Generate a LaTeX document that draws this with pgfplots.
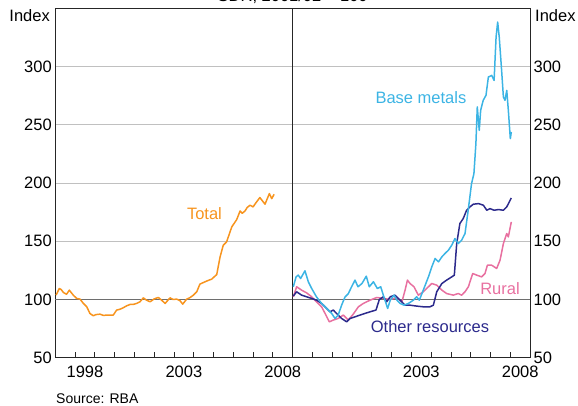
\documentclass[border=0pt]{standalone}
\usepackage{fontspec}
\setmainfont{Liberation Sans}
\usepackage{pgfplots}
\pgfplotsset{compat=1.18}

\definecolor{totc}{RGB}{247,148,30}
\definecolor{basec}{RGB}{60,180,228}
\definecolor{othc}{RGB}{44,42,140}
\definecolor{rurc}{RGB}{232,112,160}
\definecolor{gridc}{RGB}{192,192,192}
\definecolor{zeroc}{RGB}{110,110,110}
\newcommand\lbl{\fontsize{16.5}{19}\selectfont}

\pgfplotsset{rbapanel/.style={
  scale only axis, width=237.4pt, height=349.4pt,
  xmin=1997, xmax=2009, ymin=50, ymax=350,
  xtick={1997,...,2009}, xticklabels={},
  xtick pos=bottom, tick align=inside, major tick length=6pt,
  ytick={50,150,200,250,300},
  ymajorgrids, major grid style={gridc, line width=0.9pt},
  extra y ticks={100},
  extra y tick style={major tick length=0pt, major grid style={zeroc, line width=1.2pt}},
  ytick style={draw=none},
  axis line style={black!85, line width=0.8pt},
  tick style={black!85, line width=0.8pt},
  /pgf/number format/assume math mode=true,
  ticklabel style={font=\lbl},
  xticklabel style={yshift=-5pt},
  extra x tick style={major tick length=0pt},
  every axis plot/.append style={line width=1.5pt, mark=none, line join=round},
}}

\begin{document}
\begin{tikzpicture}
\path[use as bounding box] (0,0) rectangle (578pt,405pt);

% left panel: total
\begin{axis}[rbapanel, at={(55.3pt,47.3pt)}, anchor=south west,
  yticklabel pos=left,
  extra x ticks={1998.5,2003.5,2008.5},
  extra x tick labels={1998,2003,2008}]
\addplot[totc] coordinates {
(1997.04,103.7) (1997.2,109.4) (1997.3,108.5) (1997.41,106) (1997.5,105.1) (1997.57,104.5)
(1997.71,108) (1997.8,106) (1997.91,103.7) (1998.08,100.9) (1998.25,100.3)
(1998.42,96.6) (1998.59,93.7) (1998.75,88) (1998.92,86) (1999.05,87) (1999.26,87.4)
(1999.43,86.3) (1999.6,86.6) (1999.93,86.6) (2000.1,90.9) (2000.25,91.5) (2000.44,92.9)
(2000.6,94.5) (2000.78,95.7) (2000.95,95.8) (2001.11,96.6) (2001.28,98) (2001.45,101.4)
(2001.6,99.5) (2001.79,98) (2002.0,100.5) (2002.21,101.7) (2002.4,99) (2002.55,96.6)
(2002.8,101.4) (2002.95,100) (2003.14,100.3) (2003.3,99) (2003.44,96)
(2003.64,100.3) (2003.8,101.5) (2003.98,103.7) (2004.15,106.6) (2004.31,113.2)
(2004.57,115.2) (2004.75,116.5) (2004.9,117.4) (2005.16,121.4) (2005.33,136.6)
(2005.49,146.6) (2005.66,149.5) (2005.92,162.3) (2006.17,168.6) (2006.34,176)
(2006.45,174) (2006.59,176) (2006.7,179) (2006.84,180.9) (2007.0,179.5) (2007.09,181.8)
(2007.34,187.5) (2007.5,184) (2007.6,181.8) (2007.82,190.9) (2007.94,186.6) (2008.06,190.3)
};
\node[totc, font=\lbl] at (axis cs:2004.54,174) {Total};
\end{axis}

% right panel: components
\begin{axis}[rbapanel, at={(292.7pt,47.3pt)}, anchor=south west,
  yticklabel pos=right,
  extra x ticks={2003.5,2008.5},
  extra x tick labels={2003,2008}]
\addplot[rurc] coordinates {
(1997.03,102.3) (1997.2,110.9) (1997.45,108) (1997.7,105.7) (1997.96,102.3)
(1998.2,98) (1998.46,93.7) (1998.68,86.6) (1998.85,80.8) (1999.05,82.3)
(1999.3,83.7) (1999.56,86.6) (1999.81,82.3) (2000.06,87.4) (2000.32,93.7)
(2000.57,96.6) (2000.91,99.4) (2001.25,101.7) (2001.58,100.9) (2001.93,100)
(2002.27,101.7) (2002.52,98) (2002.68,108) (2002.8,116.6) (2002.93,113.7)
(2003.13,110.9) (2003.35,103.7) (2003.6,106.6) (2003.86,110.9) (2004.03,113.7)
(2004.28,112.3) (2004.54,108) (2004.78,105.1) (2005.12,103.7) (2005.37,105.1)
(2005.54,103.7) (2005.71,106.6) (2005.88,110.9) (2006.1,122.3) (2006.3,120.9)
(2006.55,119.4) (2006.72,122.3) (2006.84,129.4) (2007.06,129.4) (2007.31,126.6)
(2007.48,133.7) (2007.65,148) (2007.82,156.6) (2007.9,153.7) (2008.05,166.6)
};
\addplot[othc] coordinates {
(1997.03,102.9) (1997.2,106.6) (1997.45,103.7) (1997.7,102.3) (1997.96,100.9)
(1998.2,99.4) (1998.46,96.6) (1998.72,92.3) (1998.89,89.4) (1999.05,90.9)
(1999.22,88) (1999.47,83.7) (1999.73,80.8) (1999.9,83.7) (2000.15,85.1)
(2000.4,86.6) (2000.65,88) (2000.91,89.4) (2001.21,90.9) (2001.38,100)
(2001.58,102.3) (2001.75,98) (2001.93,102.3) (2002.17,103.7) (2002.43,99.4)
(2002.68,95.1) (2002.93,95.1) (2003.27,94.3) (2003.6,93.7) (2003.94,93.7)
(2004.11,95.1) (2004.28,106.6) (2004.54,113.7) (2004.78,116.6) (2005.04,119.4)
(2005.17,120.9) (2005.29,148) (2005.45,165.2) (2005.62,169.5) (2005.79,176.6)
(2005.96,179.5) (2006.13,181.8) (2006.39,182.3) (2006.64,180.9) (2006.81,176.6)
(2006.97,178) (2007.18,176.6) (2007.4,177.2) (2007.65,176.6) (2007.82,179.5)
(2008.05,187.2)
};
\addplot[basec] coordinates {
(1997.03,110.9) (1997.17,119.4) (1997.28,120.9) (1997.4,118) (1997.62,124.6)
(1997.79,115.2) (1997.96,109.4) (1998.2,102.3) (1998.46,96.6) (1998.72,92.3)
(1998.97,88) (1999.14,83.7) (1999.3,86.6) (1999.47,95) (1999.64,102)
(1999.81,105) (1999.98,111) (2000.15,116.6) (2000.3,110.9) (2000.5,113.7)
(2000.72,120) (2000.87,110.9) (2001.08,115.2) (2001.28,109.4) (2001.45,110.9)
(2001.58,103.7) (2001.8,92.3) (2001.93,99.4) (2002.12,103.7) (2002.27,99.4)
(2002.43,96.6) (2002.63,95.1) (2002.85,96.6) (2003.1,99.4) (2003.27,102.3)
(2003.4,99.4) (2003.6,108) (2003.86,119.4) (2004.03,128) (2004.2,135.2)
(2004.37,132.3) (2004.54,136.6) (2004.7,139.5) (2004.87,142.3) (2005.04,146.6)
(2005.2,152.3) (2005.37,148) (2005.54,150.9) (2005.71,156.6) (2005.87,176.6)
(2006.04,199.5) (2006.16,208) (2006.26,233.8) (2006.33,265.3) (2006.43,245.2)
(2006.5,262.4) (2006.63,271) (2006.77,275.3) (2006.89,291) (2007.06,292.4)
(2007.18,288.1) (2007.28,325.3) (2007.36,338.2) (2007.44,325.3) (2007.56,296.7)
(2007.65,273.8) (2007.73,271) (2007.82,279.5) (2007.9,262.4) (2008.0,238.1)
(2008.05,243.8)
};
\node[basec, font=\lbl] at (axis cs:2003.48,272.9) {Base metals};
\node[rurc, font=\lbl] at (axis cs:2007.48,109.4) {Rural};
\node[othc, font=\lbl] at (axis cs:2003.94,77.1) {Other resources};
\end{axis}

\node[font=\lbl, anchor=base east, inner sep=0pt] at (50pt,383pt) {Index};
\node[font=\lbl, anchor=base west, inner sep=0pt] at (535pt,383pt) {Index};
\node[font=\lbl, anchor=base, inner sep=0pt] at (292.7pt,403.5pt) {SDR, 2001/02 = 100};
\node[font=\fontsize{14}{16}\selectfont, anchor=base west, inner sep=0pt] at (56pt,2pt) {Source: RBA};
\end{tikzpicture}
\end{document}
